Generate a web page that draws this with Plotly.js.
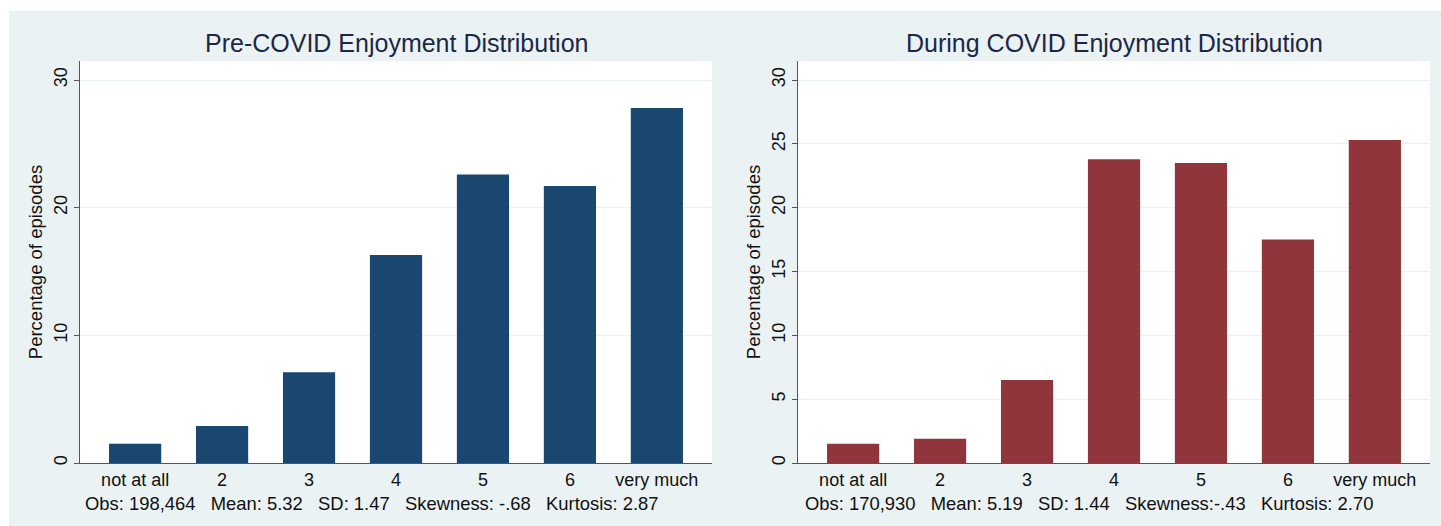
<!DOCTYPE html>
<html>
<head>
<meta charset="utf-8">
<script src="https://cdn.plot.ly/plotly-3.0.1.min.js"></script>
<style>html,body{margin:0;padding:0;background:#fff;}#chart{width:1441px;height:526px;}</style>
</head>
<body>
<div id="chart"></div>
<script>
const categories = ["not at all", "2", "3", "4", "5", "6", "very much"];
const preCovid = [1.5, 2.9, 7.1, 16.3, 22.6, 21.7, 27.8];
const duringCovid = [1.5, 1.9, 6.5, 23.8, 23.5, 17.5, 25.3];
const leftTitle = "Pre-COVID Enjoyment Distribution";
const rightTitle = "During COVID Enjoyment Distribution";
const yTitle = "Percentage of episodes";
const leftStats = "Obs: 198,464   Mean: 5.32   SD: 1.47   Skewness: -.68   Kurtosis: 2.87";
const rightStats = "Obs: 170,930   Mean: 5.19   SD: 1.44   Skewness:-.43   Kurtosis: 2.70";
const leftTicks = [0, 10, 20, 30];
const rightTicks = [0, 5, 10, 15, 20, 25, 30];

const W = 1441, H = 526;
const FONT = "Liberation Sans, Arial, sans-serif";
const BG = "#EAF2F3";
const nb = s => s.replace(/ /g, "\u00a0");

const traces = [
  {type: "bar", x: categories, y: preCovid, xaxis: "x", yaxis: "y",
   marker: {color: "#1A476F", line: {width: 0}}, hoverinfo: "x+y"},
  {type: "bar", x: categories, y: duringCovid, xaxis: "x2", yaxis: "y2",
   marker: {color: "#90353B", line: {width: 0}}, hoverinfo: "x+y"}
];

function xax(d0, d1, anchor) {
  return {domain: [d0 / W, d1 / W], anchor: anchor, type: "category",
    range: [-0.634, 6.634], showline: true, linecolor: "#555", linewidth: 1,
    ticks: "", showgrid: false, zeroline: false, fixedrange: true,
    tickfont: {family: FONT, size: 18, color: "#111"}};
}
function yax(tv, anchor) {
  return {domain: [(H - 463) / H, (H - 61) / H], anchor: anchor,
    range: [0, 31.49], tickvals: tv, ticktext: tv.map(String),
    showline: true, linecolor: "#555", linewidth: 1,
    ticks: "outside", ticklen: 5, tickcolor: "#555", tickangle: -90,
    showgrid: true, gridcolor: BG, gridwidth: 1, zeroline: false,
    tickfont: {family: FONT, size: 18, color: "#111"},
    title: {text: yTitle, font: {family: FONT, size: 18.5, color: "#111"}, standoff: 3}};
}

const layout = {
  width: W, height: H,
  margin: {l: 0, r: 0, t: 0, b: 0, pad: 0},
  paper_bgcolor: BG, plot_bgcolor: "#ffffff",
  showlegend: false, bargap: 0.4,
  xaxis: xax(80, 712, "y"),
  yaxis: yax(leftTicks, "x"),
  xaxis2: xax(798, 1430, "y2"),
  yaxis2: yax(rightTicks, "x2"),
  shapes: [
    {type: "rect", xref: "paper", yref: "paper", x0: 0, x1: 1, y0: (H - 11) / H, y1: 1,
     fillcolor: "#ffffff", line: {width: 0}, layer: "below"},
    {type: "rect", xref: "paper", yref: "paper", x0: 0, x1: 9 / W, y0: 0, y1: 1,
     fillcolor: "#ffffff", line: {width: 0}, layer: "below"}
  ],
  annotations: [
    {text: leftTitle, xref: "paper", yref: "paper", x: 396 / W, y: (H - 43) / H,
     xanchor: "center", yanchor: "middle", showarrow: false,
     font: {family: FONT, size: 25, color: "#1c2746"}},
    {text: rightTitle, xref: "paper", yref: "paper", x: 1114 / W, y: (H - 43) / H,
     xanchor: "center", yanchor: "middle", showarrow: false,
     font: {family: FONT, size: 25, color: "#1c2746"}},
    {text: nb(leftStats), xref: "paper", yref: "paper", x: 83 / W, y: (H - 503) / H,
     xanchor: "left", yanchor: "middle", showarrow: false,
     font: {family: FONT, size: 18.4, color: "#111"}},
    {text: nb(rightStats), xref: "paper", yref: "paper", x: 803 / W, y: (H - 503) / H,
     xanchor: "left", yanchor: "middle", showarrow: false,
     font: {family: FONT, size: 18.4, color: "#111"}}
  ]
};

Plotly.newPlot("chart", traces, layout, {displayModeBar: false, staticPlot: true});
</script>
</body>
</html>
